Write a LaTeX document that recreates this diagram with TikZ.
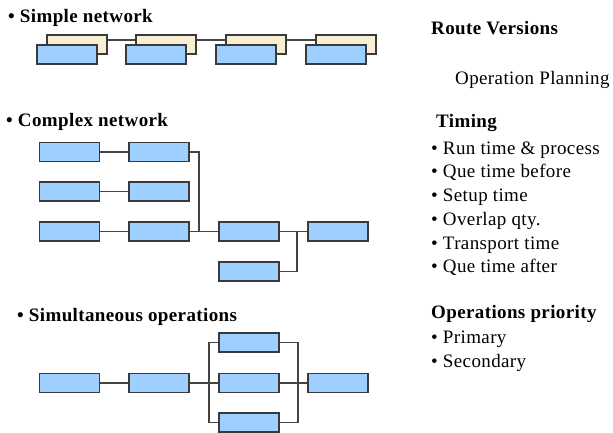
\documentclass[tikz,border=0pt]{standalone}
\usepackage{fontspec}
\setmainfont{Liberation Serif}[LetterSpace=2]
\definecolor{opblue}{HTML}{9FCFFF}
\definecolor{optan}{HTML}{F8EED2}
\definecolor{opedge}{HTML}{3A3A3A}
\definecolor{wire}{HTML}{444444}
\begin{document}
\begin{tikzpicture}[x=1pt,y=-1pt,
  opbox/.style={draw=opedge, line width=1.2pt, fill=opblue,
    minimum width=60pt, minimum height=19pt, inner sep=0pt},
  altbox/.style={opbox, fill=optan},
  link/.style={draw=wire, line width=1.2pt},
  heading/.style={anchor=base west, inner sep=0pt,
    font=\rmfamily\fontsize{19}{22}\selectfont\bfseries},
  item/.style={anchor=base west, inner sep=0pt,
    font=\rmfamily\fontsize{19}{22}\selectfont}]
\useasboundingbox (0,0) rectangle (613,433);

% ---- Simple network: alternative route behind each operation
\foreach \i/\x in {1/67, 2/156, 3/246, 4/336}{
  \node[altbox] (t\i) at (\x+10,44.5) {};
  \node[opbox]  (b\i) at (\x,54.5) {};
}
\foreach \i/\j in {1/2, 2/3, 3/4}
  \draw[link] ([yshift=4.5pt]t\i.east) -- ([yshift=4.5pt]t\j.west);
\node[heading] (hsimple) at (8,22.5) {\textbullet\ Simple network};

% ---- Complex network
\node[heading] (hcomplex) at (6,126.5) {\textbullet\ Complex network};
\node[opbox] (c11) at (69.5,152) {};
\node[opbox] (c12) at (159,152) {};
\node[opbox] (c21) at (69.5,191.5) {};
\node[opbox] (c22) at (159,191.5) {};
\node[opbox] (c31) at (69.5,231.5) {};
\node[opbox] (c32) at (159,231.5) {};
\node[opbox] (c33) at (249,231.5) {};
\node[opbox] (c34) at (338,231.5) {};
\node[opbox] (c43) at (249,271.5) {};
\coordinate (j1) at (199,231.5);
\coordinate (j2) at (297,231.5);
\draw[link] (c11) -- (c12);
\draw[link] (c21) -- (c22);
\draw[link] (c31) -- (c32);
\draw[link] (c32) -- (c33);
\draw[link] (c33) -- (c34);
\draw[link] (c12.east) -| (j1);
\draw[link] (c43.east) -| (j2);

% ---- Simultaneous operations
\node[heading] (hsimul) at (17,321.5) {\textbullet\ Simultaneous operations};
\node[opbox] (s1)  at (69.5,383) {};
\node[opbox] (s2)  at (159,383) {};
\node[opbox] (s3a) at (249,342.5) {};
\node[opbox] (s3b) at (249,383) {};
\node[opbox] (s3c) at (249,422.5) {};
\node[opbox] (s4)  at (338,383) {};
\coordinate (ja) at (209,383);
\coordinate (jb) at (298,383);
\draw[link] (s1) -- (s2);
\draw[link] (s2) -- (s3b);
\draw[link] (s3b) -- (s4);
\draw[link] (s3a.west) -| (ja) |- (s3c.west);
\draw[link] (s3a.east) -| (jb) |- (s3c.east);

% ---- Route attributes
\node[heading] (hroute) at (431,35) {Route Versions};
\node[item] (plan) at (455,85) {Operation Planning};
\node[heading] (htiming) at (436,128) {Timing};
\node[item] (t1x) at (431,154) {\textbullet\ Run time \& process};
\node[item] (t2x) at (431,178) {\textbullet\ Que time before};
\node[item] (t3x) at (431,201) {\textbullet\ Setup time};
\node[item] (t4x) at (431,225) {\textbullet\ Overlap qty.};
\node[item] (t5x) at (431,249) {\textbullet\ Transport time};
\node[item] (t6x) at (431,272) {\textbullet\ Que time after};
\node[heading] (hprio) at (431,318) {Operations priority};
\node[item] (p1x) at (431,343) {\textbullet\ Primary};
\node[item] (p2x) at (431,367) {\textbullet\ Secondary};
\end{tikzpicture}
\end{document}
